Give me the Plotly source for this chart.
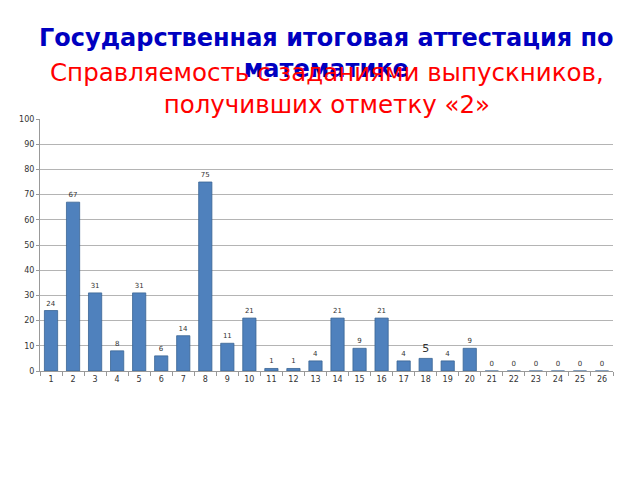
import plotly.graph_objects as go

# номера заданий и число учащихся
tasks = [str(i) for i in range(1, 27)]
counts = [24, 67, 31, 8, 31, 6, 14, 75, 11, 21, 1, 1, 4, 21, 9, 21, 4, 5, 4, 9, 0, 0, 0, 0, 0, 0]
yticks = [0, 10, 20, 30, 40, 50, 60, 70, 80, 90, 100]

title_main = '<b>Государственная итоговая аттестация по<br>математике</b>'
title_sub = 'Справляемость с заданиями выпускников,<br>получивших отметку «2»'

bar_color = '#4f81bd'
label_sizes = [11 if v == 5 else 7 for v in counts]

# страница сдвигает график на 8px (отступ body)
off = 8
top, bottom = 119 - off, 109 + off
plot_h = 480 - top - bottom
plot_top = 119

fig = go.Figure()
fig.add_trace(
    go.Bar(
        x=tasks,
        y=counts,
        text=[str(v) for v in counts],
        textposition='outside',
        textfont=dict(size=label_sizes, color='#333333', family='DejaVu Sans'),
        cliponaxis=False,
        marker=dict(color=bar_color, line=dict(color='#3a6494', width=0.8)),
        width=0.6,
    )
)

fig.update_layout(
    width=640, height=480,
    margin=dict(l=40 - off, r=27 + off, t=top, b=bottom, autoexpand=False),
    paper_bgcolor='white', plot_bgcolor='white',
    showlegend=False,
    font=dict(family='DejaVu Sans', color='#333333'),
    xaxis=dict(
        type='category', tickson='boundaries', ticks='outside', ticklen=4,
        tickcolor='#999999', showline=True, linecolor='#999999',
        tickfont=dict(size=8, color='#333333'), showgrid=False, automargin=False,
    ),
    yaxis=dict(
        range=[0, 100], tickvals=yticks, showline=True, linecolor='#999999',
        gridcolor='#b4b4b4', gridwidth=1, ticks='outside', ticklen=3,
        tickcolor='#999999', tickfont=dict(size=8, color='#333333'),
        zeroline=False, automargin=False,
    ),
    annotations=[
        dict(text=title_main, x=0.5, y=1 + (plot_top - 53) / plot_h, xref='paper', yref='paper',
             showarrow=False, font=dict(size=24, color='#0000c0', family='DejaVu Sans'),
             yanchor='middle', xanchor='center'),
        dict(text=title_sub, x=0.5, y=1 + (plot_top - 88) / plot_h, xref='paper', yref='paper',
             showarrow=False, font=dict(size=24.5, color='#ff0000', family='DejaVu Sans'),
             yanchor='middle', xanchor='center'),
    ],
)

fig.write_html('out.html')
